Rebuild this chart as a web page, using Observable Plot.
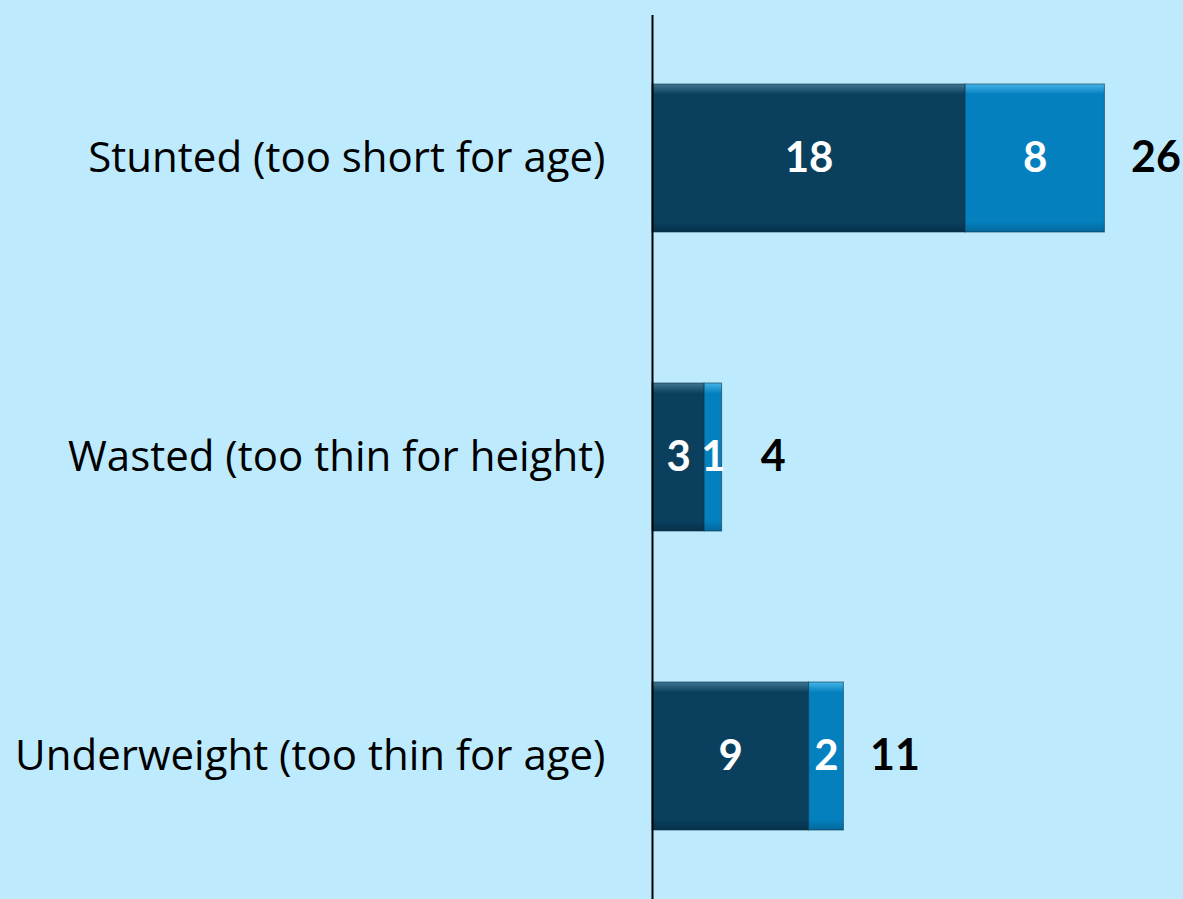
<!DOCTYPE html>
<html>
<head>
<meta charset="utf-8">
<script src="https://cdn.jsdelivr.net/npm/d3@7"></script>
<script src="https://cdn.jsdelivr.net/npm/@observablehq/plot@0.6"></script>
<style>
  html, body { margin: 0; padding: 0; background: #BDEAFD; }
  #chart svg { display: block; }
</style>
</head>
<body>
<svg width="0" height="0" style="position:absolute">
  <defs>
    <linearGradient id="gDark" x1="0" y1="0" x2="0" y2="1">
      <stop offset="0" stop-color="#3F7590"/>
      <stop offset="0.07" stop-color="#0A405E"/>
      <stop offset="0.93" stop-color="#0A405E"/>
      <stop offset="1" stop-color="#06304A"/>
    </linearGradient>
    <linearGradient id="gLight" x1="0" y1="0" x2="0" y2="1">
      <stop offset="0" stop-color="#45B5EA"/>
      <stop offset="0.07" stop-color="#0480BE"/>
      <stop offset="0.93" stop-color="#0480BE"/>
      <stop offset="1" stop-color="#03689C"/>
    </linearGradient>
  </defs>
</svg>
<div id="chart"></div>
<script>
const categories = ["Stunted (too short for age)", "Wasted (too thin for height)", "Underweight (too thin for age)"];
const seriesNames = ["Severe", "Moderate"];
const severeValues = [18, 3, 9];
const moderateValues = [8, 1, 2];
const seriesColors = ["url(#gDark)", "url(#gLight)"];

const rows = [];
categories.forEach((c, i) => {
  rows.push({category: c, series: seriesNames[0], value: severeValues[i]});
  rows.push({category: c, series: seriesNames[1], value: moderateValues[i]});
});
const totals = categories.map((c, i) => ({category: c, total: severeValues[i] + moderateValues[i]}));

const labelFont = "'Open Sans', 'Noto Sans', sans-serif";
const numFont = "Lato, 'Open Sans', sans-serif";

const chart = Plot.plot({
  width: 1183,
  height: 899,
  marginLeft: 652,
  marginRight: 9,
  marginTop: 15,
  marginBottom: 0,
  style: {background: "#BDEAFD", fontFamily: numFont, color: "#000"},
  x: {domain: [0, 30], axis: null},
  y: {domain: categories, paddingInner: 0.505, paddingOuter: 0.23, axis: null},
  color: {type: "ordinal", domain: seriesNames, range: seriesColors},
  marks: [
    Plot.barX(rows, Plot.stackX({
      x: "value", y: "category", fill: "series", order: seriesNames,
      stroke: "#06324A", strokeWidth: 1, strokeOpacity: 0.6
    })),
    Plot.textX(rows, Plot.stackX({
      x: "value", y: "category", z: "series", order: seriesNames,
      text: d => String(d.value), fill: "white", fontSize: 42, fontWeight: "bold"
    })),
    Plot.text(totals, {
      x: "total", y: "category", text: d => String(d.total), dx: 51,
      fill: "black", fontSize: 43, fontWeight: "bold"
    }),
    Plot.axisY({
      label: null, tickSize: 0, tickPadding: 47, fontSize: 42, fontFamily: labelFont, fill: "#000"
    }),
    Plot.ruleX([0], {stroke: "black", strokeWidth: 2})
  ]
});
document.getElementById("chart").appendChild(chart);
</script>
</body>
</html>
